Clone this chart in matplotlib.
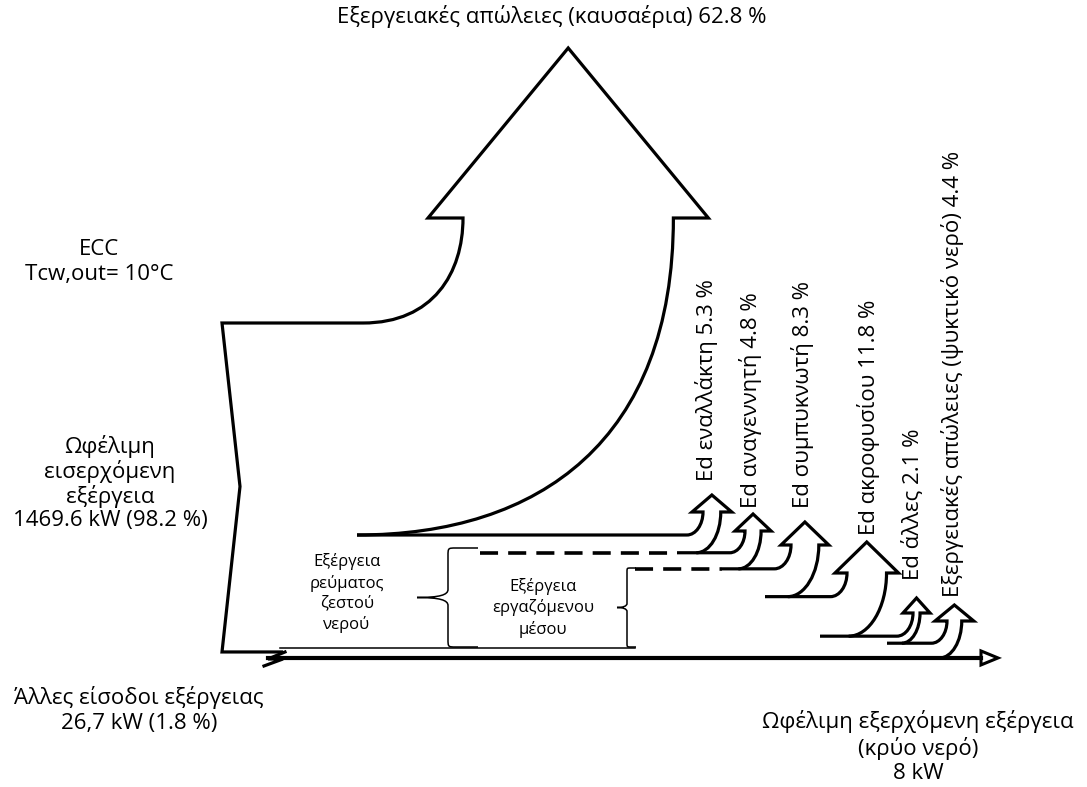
import matplotlib.pyplot as plt
from matplotlib.path import Path
from matplotlib.patches import PathPatch, Polygon

plt.rcParams['font.family'] = ['Open Sans', 'DejaVu Sans']

# data (percent of total exergy input)
exhaust_label = 'Εξεργειακές απώλειες (καυσαέρια)'
exhaust_pct = 62.8
loss_labels = ['Ed εναλλάκτη', 'Ed αναγεννητή', 'Ed συμπυκνωτή',
               'Ed ακροφυσίου', 'Ed άλλες',
               'Εξεργειακές απώλειες (ψυκτικό νερό)']
loss_pct = [5.3, 4.8, 8.3, 11.8, 2.1, 4.4]
input_kw = 1469.6
input_pct = 98.2
other_kw = '26,7'
other_pct = 1.8
output_kw = 8
case_title = 'ECC\nTcw,out= 10°C'

# layout (pixels, y grows downwards)
SCALE = 3.35          # px per percent
IN_X, IN_TOP = 222, 323
NOTCH_X = 240
BIG_SHAFT_X, BIG_HEAD_Y, BIG_TIP_Y, BIG_EXT = 463, 218, 48, 35
BIG_CURVE_START = 363
STREAM_TOP = 535
STREAM_START = 357
# shaft left x, head base y, head extra width, head height, band line start x
arrow_x = [703, 745, 791, 847, 913, 947]
arrow_hy = [512, 531, 545, 573, 613, 621]
arrow_ext = [11, 10, 10, 12, 10, 12]
arrow_hh = [17, 17, 23, 31, 15, 16]
arrow_start = [677, 722, 765, 820, 887, 920]
label_x = [707, 750, 803, 868, 913, 952]
label_y = [481, 508, 508, 535, 580, 597]

LW = 2.3
FS = 16


class PathMaker:
    def __init__(self, p):
        self.v = [p]
        self.c = [Path.MOVETO]

    def line(self, p):
        self.v.append(p)
        self.c.append(Path.LINETO)

    def curve(self, c1, c2, p):
        self.v += [c1, c2, p]
        self.c += [Path.CURVE4] * 3

    def patch(self, **kw):
        return PathPatch(Path(self.v, self.c), fill=False, **kw)


def brace(ax, x, y0, y1, tip, arm, r):
    ym = (y0 + y1) / 2
    pm = PathMaker((x + arm, y0))
    pm.line((x + r, y0))
    pm.curve((x, y0), (x, y0), (x, y0 + r))
    pm.line((x, ym - r))
    pm.curve((x, ym - r / 3), (x - r, ym), (x - tip, ym))
    pm.curve((x - r, ym), (x, ym + r / 3), (x, ym + r))
    pm.line((x, y1 - r))
    pm.curve((x, y1), (x, y1), (x + r, y1))
    pm.line((x + arm, y1))
    ax.add_patch(pm.patch(lw=1.1, edgecolor='black'))


fig = plt.figure(figsize=(10.87, 7.87), dpi=100)
ax = fig.add_axes([0, 0, 1, 1])
ax.set_xlim(0, 1087)
ax.set_ylim(787, 0)
ax.axis('off')

in_bottom = IN_TOP + input_pct * SCALE
big_w = exhaust_pct * SCALE
big_r = BIG_SHAFT_X + big_w
tip_x = BIG_SHAFT_X + big_w / 2

# main inflow + big exhaust arrow
pm = PathMaker((IN_X + 61, in_bottom))
pm.line((IN_X, in_bottom))
pm.line((NOTCH_X, (IN_TOP + in_bottom) / 2 - 1))
pm.line((IN_X, IN_TOP))
pm.line((BIG_CURVE_START, IN_TOP))
pm.curve((BIG_CURVE_START + 70, IN_TOP), (BIG_SHAFT_X, IN_TOP - 50), (BIG_SHAFT_X, BIG_HEAD_Y))
pm.line((BIG_SHAFT_X - BIG_EXT, BIG_HEAD_Y))
pm.line((tip_x, BIG_TIP_Y))
pm.line((big_r + BIG_EXT, BIG_HEAD_Y))
pm.line((big_r, BIG_HEAD_Y))
pm.curve((big_r, 440), (540, STREAM_TOP), (STREAM_START, STREAM_TOP))
ax.add_patch(pm.patch(lw=LW, edgecolor='black', joinstyle='miter'))

# small loss arrows stacked under the main stream
yt = STREAM_TOP
prev_end = STREAM_START
band_bottoms = []
for i, pct in enumerate(loss_pct):
    w = pct * SCALE
    yb = yt + w
    sl, hy = arrow_x[i], arrow_hy[i]
    sr = sl + w
    ix = sl - 0.7 * (yt - hy)
    ox = sr - 0.6 * (yb - hy)
    k = 0.55
    pm = PathMaker((arrow_start[i], yb))
    pm.line((ox, yb))
    pm.curve((ox + k * (sr - ox), yb), (sr, hy + k * (yb - hy)), (sr, hy))
    pm.line((sr + arrow_ext[i], hy))
    pm.line((sl + w / 2, hy - arrow_hh[i]))
    pm.line((sl - arrow_ext[i], hy))
    pm.line((sl, hy))
    pm.curve((sl, hy + k * (yt - hy)), (ix + k * (sl - ix), yt), (ix, yt))
    pm.line((prev_end, yt))
    ax.add_patch(pm.patch(lw=LW, edgecolor='black', joinstyle='miter'))
    band_bottoms.append(yb)
    prev_end = ox
    yt = yb
    ax.text(label_x[i], label_y[i], f'{loss_labels[i]} {pct} %', rotation=90,
            ha='center', va='bottom', fontsize=FS)

# dashed stream boundaries
ax.plot([480, arrow_start[0]], [band_bottoms[0]] * 2, color='black', lw=2.6,
        linestyle=(0, (5, 2.8)))
ax.plot([635, arrow_start[1]], [band_bottoms[1]] * 2, color='black', lw=2.6,
        linestyle=(0, (5, 2.8)))

# other inputs zigzag + useful output line
out_y = band_bottoms[-1]
ax.plot([IN_X + 63, IN_X + 46, IN_X + 61, IN_X + 42],
        [in_bottom, in_bottom + 7, in_bottom + 7, in_bottom + 14],
        color='black', lw=LW, solid_joinstyle='miter')
ax.plot([IN_X + 46, 981], [out_y, out_y], color='black', lw=3)
ax.add_patch(Polygon([(981, out_y - 7), (998, out_y), (981, out_y + 7)],
                     closed=True, facecolor='white', edgecolor='black', lw=2.2))

# thin base line and braces
ax.plot([280, 635], [648, 648], color='black', lw=1.1)
brace(ax, 448, 548, 647, 31, 30, 8)
brace(ax, 627, 568, 647, 10, 9, 4)

# texts
ax.text(552, 16, f'{exhaust_label} {exhaust_pct} %', ha='center', va='center', fontsize=FS)
ax.text(99, 262, case_title, ha='center', va='center', fontsize=FS, linespacing=1.3)
ax.text(110, 483, f'Ωφέλιμη\nεισερχόμενη\nεξέργεια\n{input_kw} kW ({input_pct} %)',
        ha='center', va='center', fontsize=FS, linespacing=1.12)
ax.text(139, 710, f'Άλλες είσοδοι εξέργειας\n{other_kw} kW ({other_pct} %)',
        ha='center', va='center', fontsize=FS, linespacing=1.2)
ax.text(918, 747, f'Ωφέλιμη εξερχόμενη εξέργεια\n(κρύο νερό)\n{output_kw} kW',
        ha='center', va='center', fontsize=FS, linespacing=1.2)
ax.text(347, 593, 'Εξέργεια\nρεύματος\nζεστού\nνερού', ha='center', va='center',
        fontsize=12, linespacing=1.32)
ax.text(543, 608, 'Εξέργεια\nεργαζόμενου\nμέσου', ha='center', va='center',
        fontsize=12, linespacing=1.32)

fig.savefig('out.png', dpi=100)
